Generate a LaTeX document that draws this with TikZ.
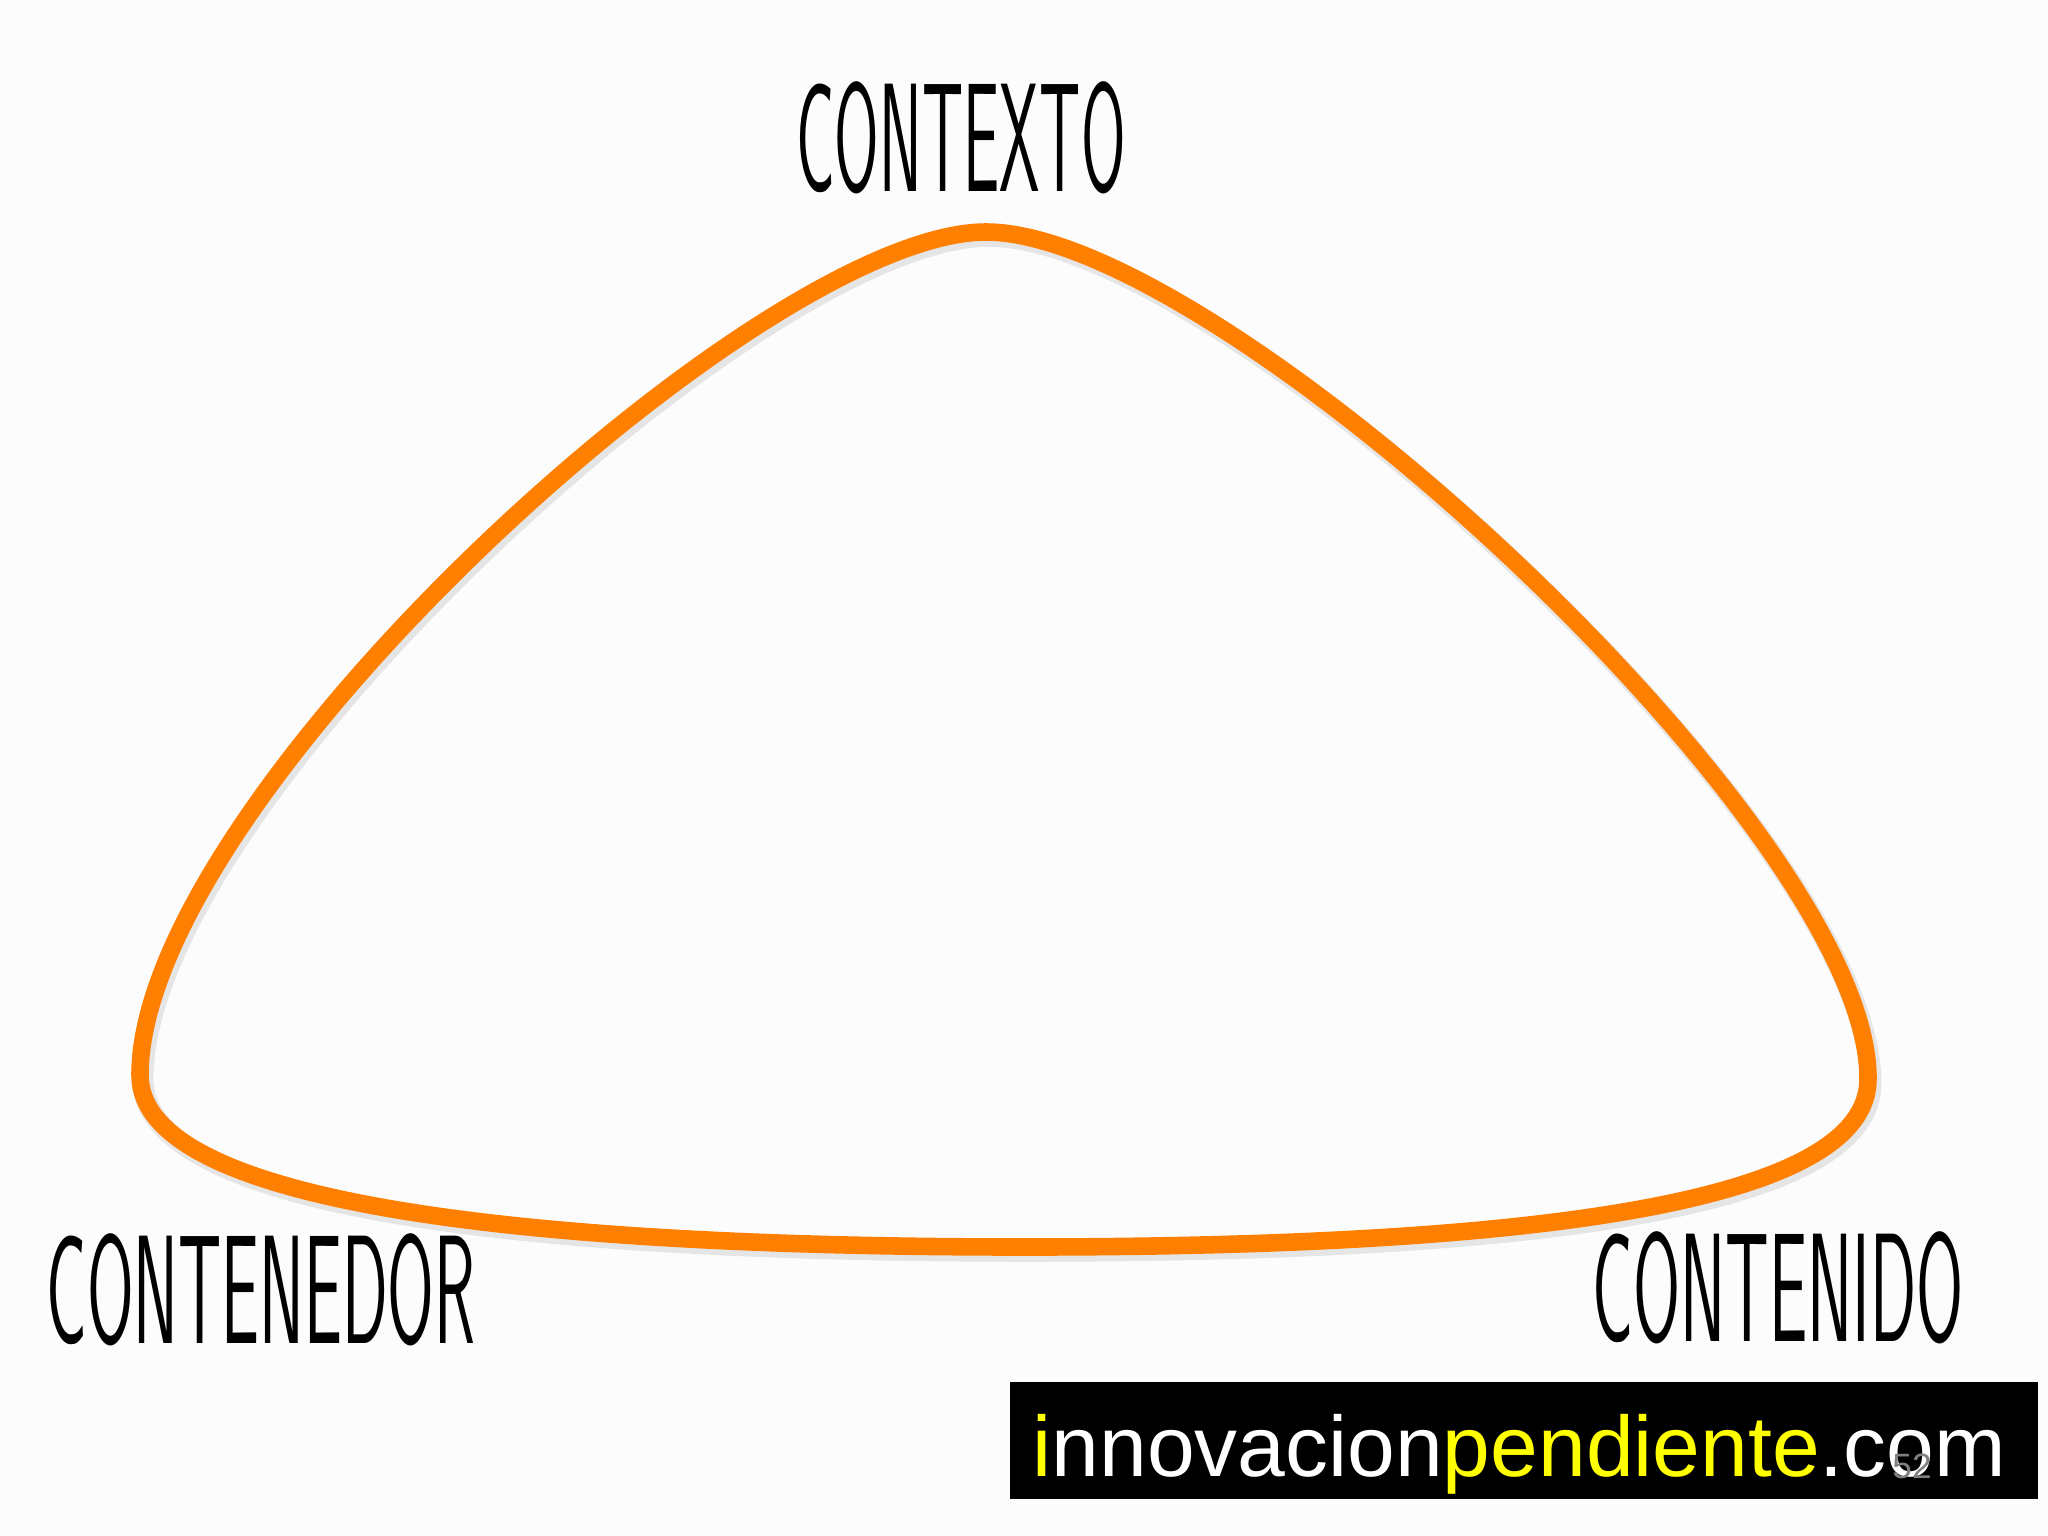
\documentclass[tikz,border=0pt]{standalone}
\usepackage{fontspec}
\newfontfamily\logofont{Liberation Sans}
\usepackage{tikz}
\definecolor{looporange}{RGB}{255,128,0}
\definecolor{logoyellow}{RGB}{255,255,0}

\begin{document}
\begin{tikzpicture}[x=0.01cm, y=-0.01cm,
    corner/.style={inner sep=0pt, xscale=#1, font=\sffamily\fontsize{44}{44}\selectfont},
    loopline/.style={draw=looporange, line width=5pt, line join=round}]
	\useasboundingbox (0,0) rectangle (2048,1536);
	\fill[white!99!black] (0,0) rectangle (2048,1536);
	\draw[loopline, preaction={draw=black!10, line width=6pt, transform canvas={xshift=0.8pt, yshift=-1.2pt}}]
		(986,232) .. controls (760,232) and (140,800) .. (140,1075)
		.. controls (140,1200) and (500,1247) .. (1025,1247)
		.. controls (1550,1247) and (1870,1200) .. (1868,1078)
		.. controls (1868,830) and (1221,232) .. (986,232) -- cycle;
	\node[corner=0.416] (contexto) at (961,138) {CONTEXTO};
	\node[corner=0.436] (contenedor) at (261,1290) {CONTENEDOR};
	\node[corner=0.44] (contenido) at (1778,1288) {CONTENIDO};
	\fill[black] (1010,1382) rectangle (2038,1499);
	\node[anchor=base west, inner sep=0pt, text=white, font=\logofont\fontsize{24.4}{26}\selectfont] (logo) at (1032,1476)
		{{\color{logoyellow}i}nnovacion{\color{logoyellow}pendiente}.com};
	\node[inner sep=0pt, text=gray, font=\logofont\fontsize{10}{10}\selectfont] (slidenum) at (1912,1466) {52};
\end{tikzpicture}
\end{document}
